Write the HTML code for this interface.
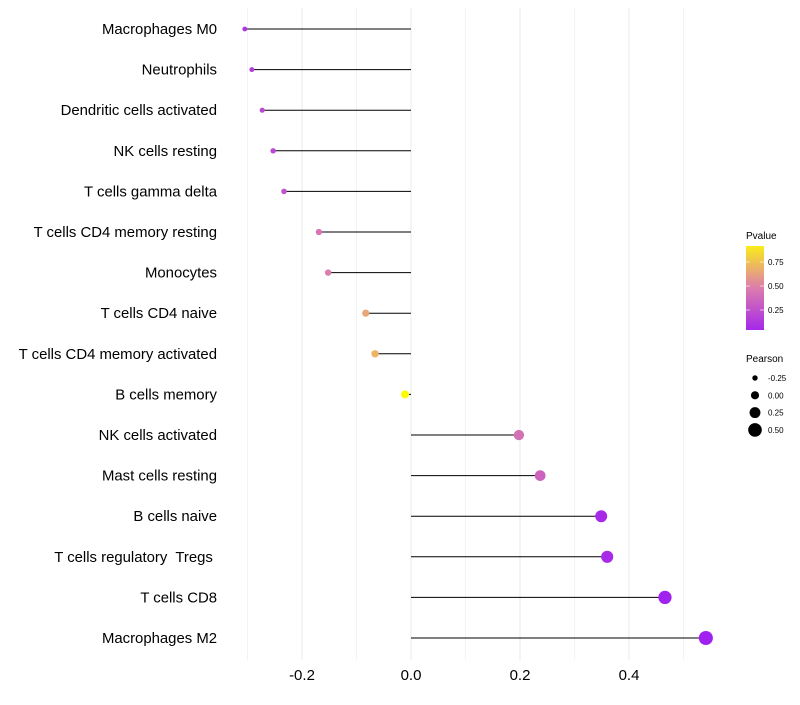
<!DOCTYPE html>
<html><head><meta charset="utf-8"><style>
body{margin:0;background:#fff;font-family:"Liberation Sans",sans-serif;}
</style></head><body>
<svg id="chart" width="800" height="700" xmlns="http://www.w3.org/2000/svg" font-family="Liberation Sans, sans-serif"></svg>
<script>
const categories=["Macrophages M0","Neutrophils","Dendritic cells activated","NK cells resting","T cells gamma delta","T cells CD4 memory resting","Monocytes","T cells CD4 naive","T cells CD4 memory activated","B cells memory","NK cells activated","Mast cells resting","B cells naive","T cells regulatory  Tregs ","T cells CD8","Macrophages M2"];
const pearson=[-0.305,-0.292,-0.273,-0.253,-0.233,-0.169,-0.152,-0.083,-0.066,-0.011,0.198,0.237,0.349,0.360,0.466,0.541];
const pvalue=[0.1,0.15,0.2,0.2,0.25,0.42,0.47,0.62,0.67,0.93,0.4,0.33,0.05,0.05,0.01,0.002];
const xTicks=[-0.2,0.0,0.2,0.4];
const xTickLabels=["-0.2","0.0","0.2","0.4"];
const legendP=[0.25,0.5,0.75];
const legendS=[-0.25,0,0.25,0.5];

const svg=document.getElementById('chart');
const NS="http://www.w3.org/2000/svg";
function mk(t,a,p){const e=document.createElementNS(NS,t);for(const k in a)e.setAttribute(k,a[k]);(p||svg).appendChild(e);return e;}
const x=v=>411+v*545;
const y=i=>29+i*40.6;
const rad=v=>2.4+(v+0.305)*5.5;
function col(p){
  const stops=[[0,[160,32,240]],[0.5,[222,128,170]],[1,[255,255,0]]];
  let t=Math.max(0,Math.min(1,p/0.95));
  let a=stops[0],b=stops[1];if(t>0.5){a=stops[1];b=stops[2];}
  const f=(t-a[0])/(b[0]-a[0]);
  const c=a[1].map((v,k)=>Math.round(v+(b[1][k]-v)*f));
  return `rgb(${c[0]},${c[1]},${c[2]})`;
}
for(let v=-0.3;v<=0.501;v+=0.1){
  const g=mk('line',{x1:x(v),x2:x(v),y1:8,y2:660,stroke:'#ebebeb','stroke-width':Math.abs(Math.round(v*10))%2===0?1.1:0.6});
  
  
}
xTicks.forEach((v,i)=>{
  const t=mk('text',{x:x(v),y:680,'text-anchor':'middle','font-size':15,fill:'#000'});
  t.textContent=xTickLabels[i];
  
  
});
categories.forEach((c,i)=>{
  const t=mk('text',{x:217,y:y(i)+5,'text-anchor':'end','font-size':14.9,fill:'#000','xml:space':'preserve'});
  t.setAttribute('style','white-space:pre');
  t.textContent=c;
  
  
  const l=mk('line',{x1:x(0),x2:x(pearson[i]),y1:y(i),y2:y(i),stroke:'#000','stroke-width':1});
  
  
  const d=mk('circle',{cx:x(pearson[i]),cy:y(i),r:rad(pearson[i]),fill:col(pvalue[i])});
  
  
});
const lg=mk('g',{});


const tt=mk('text',{x:746,y:239,'font-size':10,fill:'#000'},lg);tt.textContent='Pvalue';
const defs=mk('defs',{});
const gr=mk('linearGradient',{id:'pg',x1:0,y1:1,x2:0,y2:0},defs);
for(let k=0;k<=10;k++){const p=0.04+k*0.084;mk('stop',{offset:k/10,'stop-color':col(p)},gr);}
mk('rect',{x:746,y:246,width:18,height:84,fill:'url(#pg)'},lg);
legendP.forEach(p=>{
  const yy=334-p*96;
  mk('line',{x1:746,x2:750,y1:yy,y2:yy,stroke:'#fff','stroke-opacity':0.6},lg);
  mk('line',{x1:760,x2:764,y1:yy,y2:yy,stroke:'#fff','stroke-opacity':0.6},lg);
  const t=mk('text',{x:768,y:yy+3,'font-size':8,fill:'#000'},lg);t.textContent=p.toFixed(2);
});
const ls=mk('g',{});


const st=mk('text',{x:746,y:362,'font-size':10,fill:'#000'},ls);st.textContent='Pearson';
legendS.forEach((v,k)=>{
  const yy=378+k*17.3;
  mk('circle',{cx:755,cy:yy,r:rad(v),fill:'#000'},ls);
  const t=mk('text',{x:768,y:yy+3,'font-size':8,fill:'#000'},ls);t.textContent=v.toFixed(2);
});
</script>
</body></html>
